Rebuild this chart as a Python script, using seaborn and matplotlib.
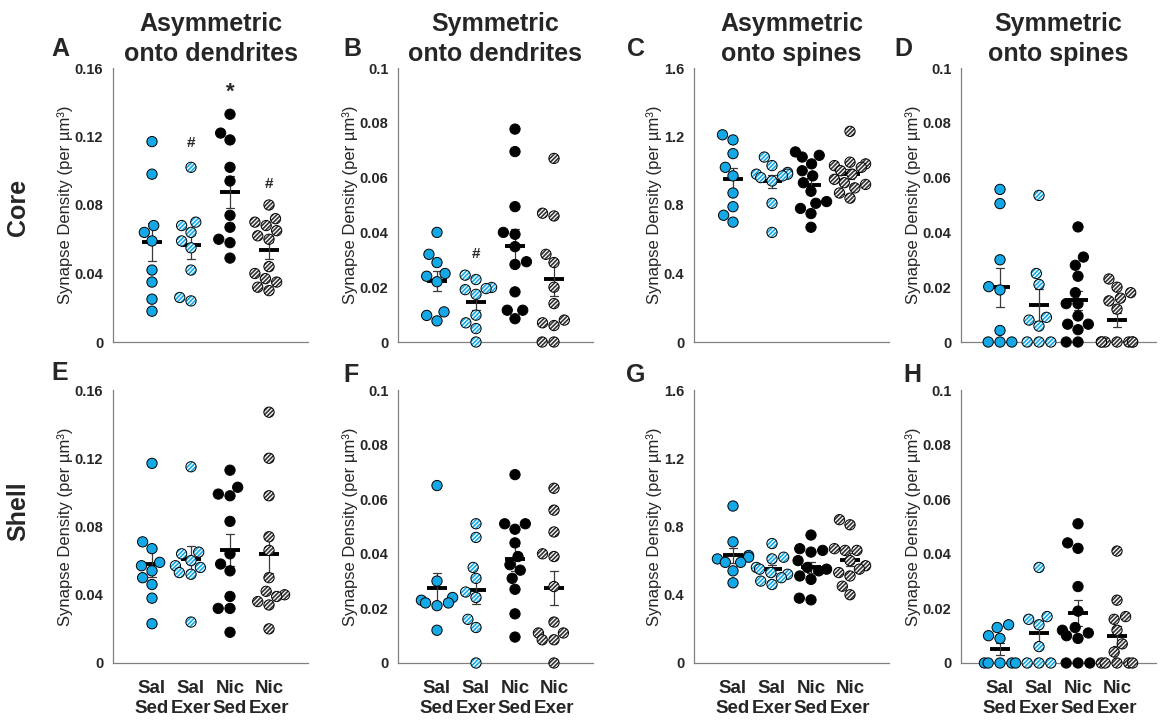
import matplotlib.colors as mcolors
import matplotlib.pyplot as plt
import pandas as pd
import seaborn as sns

# === Groups and labels ===
groups = ["Sal Sed", "Sal Exer", "Nic Sed", "Nic Exer"]
group_ticklabels = ["Sal\nSed", "Sal\nExer", "Nic\nSed", "Nic\nExer"]
column_titles = [
    "Asymmetric\nonto dendrites",
    "Symmetric\nonto dendrites",
    "Asymmetric\nonto spines",
    "Symmetric\nonto spines",
]
row_titles = ["Core", "Shell"]
panel_letters = ["A", "B", "C", "D", "E", "F", "G", "H"]

# === Synapse density (per um3), one list per group: Sal Sed, Sal Exer, Nic Sed, Nic Exer ===
core_asym_dend = [
    [0.117, 0.098, 0.068, 0.064, 0.059, 0.042, 0.035, 0.025, 0.018],
    [0.102, 0.070, 0.068, 0.064, 0.059, 0.055, 0.042, 0.026, 0.024],
    [0.133, 0.122, 0.118, 0.102, 0.094, 0.074, 0.067, 0.060, 0.058, 0.049],
    [0.080, 0.072, 0.070, 0.068, 0.065, 0.062, 0.060, 0.044, 0.040, 0.037, 0.035, 0.032, 0.030],
]
core_sym_dend = [
    [0.040, 0.032, 0.029, 0.025, 0.024, 0.022, 0.011, 0.0097, 0.0077],
    [0.0244, 0.0228, 0.0199, 0.0195, 0.0191, 0.0174, 0.0098, 0.007, 0.0049, 0.0],
    [0.0777, 0.0695, 0.0494, 0.040, 0.0393, 0.0348, 0.0293, 0.0283, 0.0183, 0.0116, 0.0116, 0.0085],
    [0.067, 0.047, 0.046, 0.032, 0.029, 0.020, 0.014, 0.008, 0.007, 0.006, 0.0, 0.0],
]
core_asym_spine = [
    [1.21, 1.18, 1.10, 1.02, 0.97, 0.87, 0.79, 0.74, 0.70],
    [1.08, 1.03, 0.99, 0.98, 0.98, 0.97, 0.96, 0.94, 0.81, 0.64],
    [1.11, 1.09, 1.08, 1.04, 1.00, 0.97, 0.93, 0.88, 0.82, 0.81, 0.78, 0.75, 0.67],
    [1.23, 1.05, 1.04, 1.03, 1.02, 1.00, 0.98, 0.95, 0.93, 0.92, 0.90, 0.87, 0.84],
]
core_sym_spine = [
    [0.0557, 0.0505, 0.030, 0.0202, 0.019, 0.0042, 0.0, 0.0, 0.0],
    [0.0535, 0.025, 0.021, 0.009, 0.008, 0.0058, 0.0, 0.0, 0.0],
    [0.042, 0.031, 0.028, 0.024, 0.018, 0.014, 0.014, 0.0095, 0.0065, 0.0065, 0.0045, 0.0, 0.0],
    [0.023, 0.020, 0.018, 0.016, 0.015, 0.012, 0.0, 0.0, 0.0, 0.0, 0.0, 0.0, 0.0],
]
shell_asym_dend = [
    [0.117, 0.071, 0.067, 0.059, 0.057, 0.054, 0.050, 0.046, 0.038, 0.023],
    [0.115, 0.065, 0.064, 0.060, 0.057, 0.056, 0.053, 0.052, 0.024],
    [0.113, 0.103, 0.099, 0.098, 0.083, 0.064, 0.058, 0.054, 0.039, 0.032, 0.032, 0.018],
    [0.147, 0.120, 0.098, 0.074, 0.066, 0.050, 0.042, 0.040, 0.039, 0.036, 0.034, 0.020],
]
shell_sym_dend = [
    [0.065, 0.030, 0.024, 0.023, 0.022, 0.022, 0.021, 0.012],
    [0.051, 0.046, 0.035, 0.031, 0.026, 0.024, 0.016, 0.013, 0.0],
    [0.069, 0.051, 0.051, 0.049, 0.044, 0.039, 0.036, 0.034, 0.031, 0.027, 0.018, 0.0095],
    [0.064, 0.056, 0.048, 0.040, 0.039, 0.028, 0.015, 0.011, 0.011, 0.0085, 0.0085, 0.0],
]
shell_asym_spine = [
    [0.92, 0.71, 0.63, 0.62, 0.61, 0.59, 0.59, 0.54, 0.47],
    [0.70, 0.62, 0.61, 0.56, 0.55, 0.53, 0.52, 0.50, 0.48, 0.46],
    [0.75, 0.67, 0.66, 0.65, 0.60, 0.56, 0.55, 0.54, 0.51, 0.49, 0.38, 0.37],
    [0.84, 0.81, 0.67, 0.66, 0.66, 0.60, 0.57, 0.55, 0.53, 0.51, 0.45, 0.40],
]
shell_sym_spine = [
    [0.014, 0.013, 0.010, 0.009, 0.0, 0.0, 0.0, 0.0, 0.0],
    [0.035, 0.017, 0.016, 0.014, 0.006, 0.0, 0.0, 0.0],
    [0.051, 0.044, 0.042, 0.028, 0.019, 0.013, 0.012, 0.011, 0.010, 0.009, 0.0, 0.0, 0.0],
    [0.041, 0.023, 0.017, 0.016, 0.012, 0.007, 0.004, 0.0, 0.0, 0.0, 0.0, 0.0],
]
panels = [
    core_asym_dend, core_sym_dend, core_asym_spine, core_sym_spine,
    shell_asym_dend, shell_sym_dend, shell_asym_spine, shell_sym_spine,
]

# === Y axes ===
ticks_dend_asym = [0, 0.04, 0.08, 0.12, 0.16]
labels_dend_asym = ["0", "0.04", "0.08", "0.12", "0.16"]
ticks_sym = [0, 0.02, 0.04, 0.06, 0.08, 0.1]
labels_sym = ["0", "0.02", "0.04", "0.06", "0.08", "0.1"]
ticks_spine_asym = [0, 0.4, 0.8, 1.2, 1.6]
labels_spine_asym = ["0", "0.4", "0.8", "1.2", "1.6"]
column_ticks = [ticks_dend_asym, ticks_sym, ticks_spine_asym, ticks_sym]
column_ticklabels = [labels_dend_asym, labels_sym, labels_spine_asym, labels_sym]

# === Significance marks: (panel, group, y, text) ===
marks = [
    (0, 1, 0.116, "#"),
    (0, 2, 0.146, "*"),
    (0, 3, 0.092, "#"),
    (1, 1, 0.032, "#"),
]

# === Style ===
BLUE = "#14A8E6"
face_colors = {"Sal Sed": BLUE, "Sal Exer": "white", "Nic Sed": "black", "Nic Exer": "white"}
hatch_colors = {"Sal Exer": BLUE, "Nic Exer": "#333333"}
SPINE = "#808080"

sns.set_style("white")
plt.rcParams["font.family"] = ["Liberation Sans", "DejaVu Sans"]
plt.rcParams["hatch.linewidth"] = 1.2

W, H = 1171, 726
fig = plt.figure(figsize=(W / 100, H / 100), dpi=100)

lefts = [113, 398, 694, 961]
row_tops = [68, 390]
row_bottoms = [342, 663]
ax_w = 195

for i, data in enumerate(panels):
    row, col = divmod(i, 4)
    rect = [
        lefts[col] / W,
        1 - row_bottoms[row] / H,
        ax_w / W,
        (row_bottoms[row] - row_tops[row]) / H,
    ]
    ax = fig.add_axes(rect)

    df = pd.DataFrame(
        {
            "group": [g for g, vals in zip(groups, data) for _ in vals],
            "density": [v for vals in data for v in vals],
        }
    )

    # --- individual animals ---
    sns.swarmplot(
        data=df, x="group", y="density", hue="group", order=groups,
        hue_order=groups, palette=face_colors, size=7.4, edgecolor="black",
        linewidth=0.7, legend=False, clip_on=False, warn_thresh=1, ax=ax,
    )
    for g, coll in zip(groups, ax.collections):
        if g in hatch_colors:
            coll.set_hatch("////////")
            coll._hatch_color = mcolors.to_rgba(hatch_colors[g])

    # --- mean +/- SEM ---
    sns.pointplot(
        data=df, x="group", y="density", order=groups,
        errorbar="se", linestyle="none", markers="_", markersize=15,
        markeredgewidth=2.8, color="black", capsize=0.18,
        err_kws={"linewidth": 0.9, "color": "#3a3a3a"}, ax=ax,
    )

    ax.set_xlim(-1, 4)
    ax.set_ylim(0, column_ticks[col][-1])
    ax.set_yticks(column_ticks[col], column_ticklabels[col], fontweight="bold", fontsize=10.5)
    ax.set_xticks(range(4))
    if row == 1:
        ax.set_xticklabels(group_ticklabels, fontweight="bold", fontsize=13.5, linespacing=1.25)
    else:
        ax.set_xticklabels([])
    ax.set_xlabel("")
    ax.set_ylabel("Synapse Density (per µm³)", fontsize=12, labelpad=1)
    ax.tick_params(axis="y", direction="out", length=4, width=0.8, color=SPINE, pad=3)
    ax.tick_params(axis="x", direction="out", length=3, width=0.8, color=SPINE, pad=9)
    for side in ["top", "right"]:
        ax.spines[side].set_visible(False)
    for side in ["left", "bottom"]:
        ax.spines[side].set_color(SPINE)
        ax.spines[side].set_linewidth(0.9)

    for p, gi, y, txt in marks:
        if p == i:
            ax.text(gi, y, txt, ha="center", va="center", fontweight="bold",
                    fontsize=16 if txt == "*" else 11)

    if row == 0:
        ax.set_title(column_titles[col], fontsize=18, fontweight="bold", pad=5,
                     linespacing=1.3)

# === Panel letters and row titles ===
letter_pos = [(60, 49), (352, 49), (636, 49), (903, 49), (60, 373), (351, 375), (636, 375), (912, 375)]
for letter, (x, y) in zip(panel_letters, letter_pos):
    fig.text(x / W, 1 - y / H, letter, ha="center", va="center", fontsize=18, fontweight="bold")

for title, y in zip(row_titles, [207, 511]):
    fig.text(18 / W, 1 - y / H, title, rotation=90, ha="center", va="center",
             fontsize=18, fontweight="bold")

fig.savefig("out.png", dpi=100)
